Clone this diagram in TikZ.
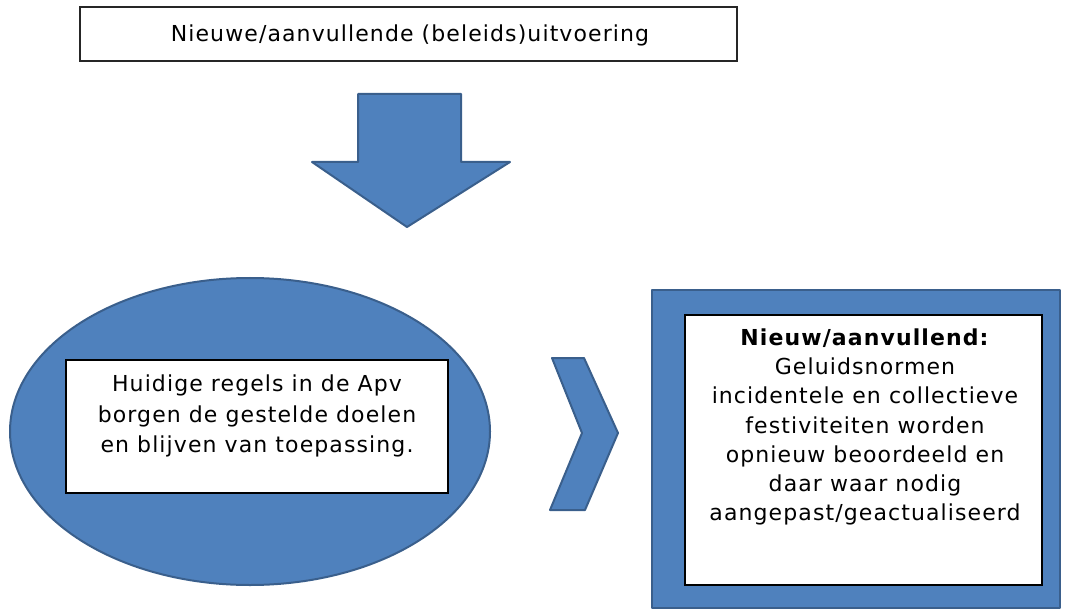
\documentclass[tikz,border=0pt]{standalone}
\usepackage{fontspec}
\newfontfamily\vf[LetterSpace=5]{DejaVu Sans}
\definecolor{ofblue}{HTML}{4F81BD}
\definecolor{ofedge}{HTML}{3A5F8C}
\begin{document}
\begin{tikzpicture}[x=1pt,y=-1pt,
  shapefill/.style={fill=ofblue,draw=ofedge,line width=2pt,line join=round},
  whitebox/.style={draw=black,line width=1.8pt,fill=white},
  txt/.style={font=\vf\fontsize{22}{30.5}\selectfont,align=center,inner sep=0pt}]
\useasboundingbox (0,0) rectangle (1065,612);
% top box
\node[whitebox,draw=black!85,line width=1.5pt,minimum width=657pt,minimum height=54pt,inner sep=0pt] (top) at (408.5,34) {};
\node[txt] (toptxt) at (410,35) {Nieuwe/aanvullende (beleids)uitvoering};
% down arrow
\path[shapefill] (358,94) -- (461,94) -- (461,162) -- (510,162) -- (407,227) -- (312,162) -- (358,162) -- cycle;
% ellipse
\path[shapefill] (250,431.5) ellipse [x radius=240, y radius=153.5];
\node[whitebox,minimum width=382pt,minimum height=133pt,inner sep=0pt] (leftbox) at (257,426.5) {};
\node[txt] (lefttxt) at (257,416) {Huidige regels in de Apv\\borgen de gestelde doelen\\en blijven van toepassing.};
% chevron
\path[shapefill] (552,358) -- (584,358) -- (618,433) -- (585,510) -- (550,510) -- (582,433) -- cycle;
% right box
\path[shapefill] (652,290) rectangle (1060,608);
\node[whitebox,minimum width=357pt,minimum height=270pt,inner sep=0pt] (rightbox) at (863.5,450) {};
\node[txt,font=\vf\fontsize{22}{29.3}\selectfont] (righttxt) at (865,427) {\textbf{Nieuw/aanvullend:}\\Geluidsnormen\\incidentele en collectieve\\festiviteiten worden\\opnieuw beoordeeld en\\daar waar nodig\\aangepast/geactualiseerd};
\end{tikzpicture}
\end{document}
